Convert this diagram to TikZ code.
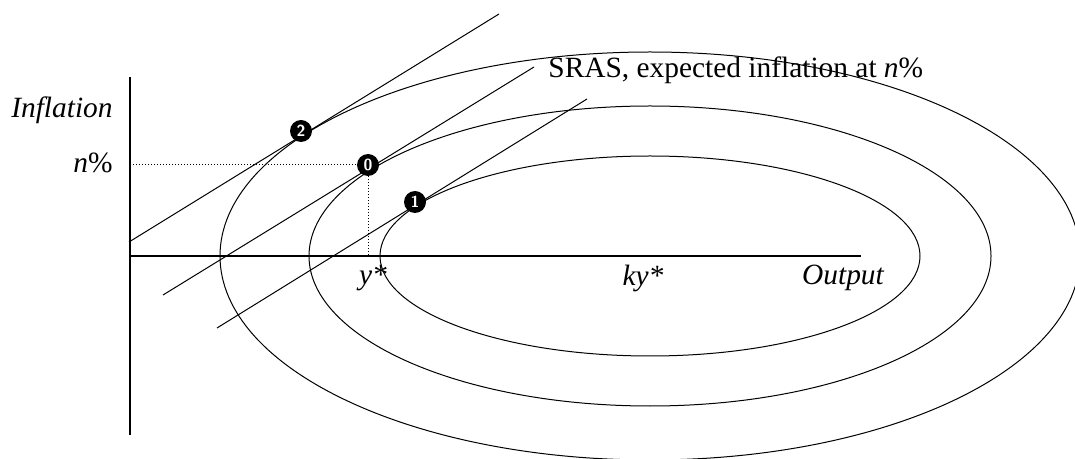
\documentclass[tikz,border=0pt]{standalone}
\usepackage{fontspec}
\setmainfont{Liberation Serif}
\usetikzlibrary{positioning}

\begin{document}
\begin{tikzpicture}[
                x=0.5pt, y=-0.5pt,
                axis/.style={line width=0.8pt},
                curve/.style={line width=0.5pt},
                sras/.style={line width=0.5pt},
                guide/.style={densely dotted, line width=0.5pt},
                axlabel/.style={font=\fontsize{14.7}{17}\selectfont\itshape, inner sep=0pt},
                marker/.style={circle, fill=black, inner sep=0pt, minimum size=11pt, text=white, font=\sffamily\bfseries\fontsize{8}{8}\selectfont}
            ]
            \useasboundingbox (0,0) rectangle (1075,459);
            \clip (0,0) rectangle (1075,459);

            % Achsen
            \coordinate (origin) at (130,256);
            \coordinate (ytop) at (130,77);
            \coordinate (ybot) at (130,435);
            \coordinate (xend) at (861,256);
            \draw[axis] (ytop) -- (ybot);
            \draw[axis] (origin) -- (xend);

            % Ellipsen um ky*
            \coordinate (centre) at (650,256);
            \draw[curve] (centre) ellipse [x radius=270, y radius=100];
            \draw[curve] (centre) ellipse [x radius=341, y radius=150];
            \draw[curve] (centre) ellipse [x radius=430, y radius=204];

            % SRAS-Geraden
            \coordinate (s2a) at (129,242);
            \coordinate (s2b) at (499,14);
            \coordinate (s0a) at (163,295);
            \coordinate (s0b) at (534,67);
            \coordinate (s1a) at (217,328);
            \coordinate (s1b) at (587,99);
            \draw[sras] (s2a) -- (s2b);
            \draw[sras] (s0a) -- (s0b);
            \draw[sras] (s1a) -- (s1b);

            % Punkte
            \node[marker] (p2) at (301,131) {2};
            \node[marker] (p0) at (368,165) {0};
            \node[marker] (p1) at (415,202) {1};

            % Hilfslinien
            \coordinate (nlev) at (130,165);
            \coordinate (ystar) at (368,256);
            \draw[guide] (nlev) -- (p0.west);
            \draw[guide] (p0.south) -- (ystar);

            % Beschriftungen
            \node[axlabel, anchor=base east] (inflation) at (113,118) {Inflation};
            \node[axlabel, anchor=base east] (nlab) at (113,173) {n\textup{\%}};
            \node[axlabel] (ylab) at (373,278) {y*};
            \node[axlabel] (kylab) at (643,278) {ky*};
            \node[axlabel] (output) at (843,278) {Output};
            \node[font=\fontsize{14.7}{17}\selectfont, anchor=west, inner sep=0pt] (srlab) at (548,70) {SRAS, expected inflation at \textit{n}\%};

        \end{tikzpicture}
\end{document}
